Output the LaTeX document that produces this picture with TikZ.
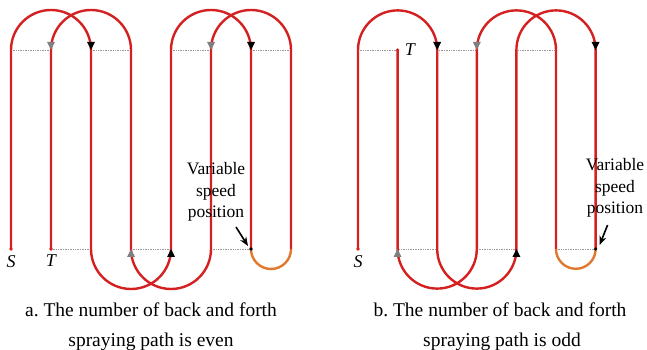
\documentclass[tikz,border=0pt]{standalone}
\usepackage{fontspec}
\setmainfont{Liberation Serif}
\usetikzlibrary{arrows.meta,calc,positioning}
\definecolor{PathRed}{HTML}{D42020}
\definecolor{PathOrange}{HTML}{E0782E}

\begin{document}
\begin{tikzpicture}[x=1pt,y=1pt,
  route/.style={PathRed,line width=2.4pt},
  turn/.style={PathOrange,line width=2.4pt},
  guide/.style={gray!80,densely dotted,line width=0.7pt},
  pointer/.style={-{Stealth[length=9pt,width=7pt]},line width=1.6pt,black},
  endlabel/.style={font=\fontsize{18}{20}\selectfont\itshape,inner sep=0pt},
  note/.style={align=center,font=\fontsize{17.5}{21.5}\selectfont,inner sep=0pt},
  caption/.style={anchor=base,font=\fontsize{19.5}{24}\selectfont,inner sep=0pt},
  pics/tipdown/.style={code={\fill (-4,8) -- (4,8) -- (0,0) -- cycle;}},
  pics/tipup/.style={code={\fill (-4,-8) -- (4,-8) -- (0,0) -- cycle;}}]
  \useasboundingbox (0,0) rectangle (647,350);
  % columns of the two panels
  \foreach \i in {0,...,7}{
    \coordinate (at\i) at (11+40*\i,300); \coordinate (ab\i) at (11+40*\i,101);}
  \foreach \i in {0,...,6}{
    \coordinate (bt\i) at (358+39.6*\i,300); \coordinate (bb\i) at (358+39.6*\i,101);}
  \foreach \p/\q in {at0/at1,at2/at3,at4/at5,at6/at7,ab1/ab2,ab3/ab4,ab5/ab6,
    bt0/bt1,bt2/bt3,bt4/bt5,bb1/bb2,bb3/bb4,bb5/bb6}
    \draw[guide] (\p) -- (\q);

  % a. even
  \draw[route] (ab0) -- (at0) arc[start angle=180,end angle=0,radius=40] -- (ab2)
    arc[start angle=180,end angle=360,radius=40] -- (at4)
    arc[start angle=180,end angle=0,radius=40] -- (ab6);
  \draw[turn] (ab6) arc[start angle=180,end angle=360,radius=20];
  \draw[route] (ab7) -- (at7) arc[start angle=0,end angle=180,radius=40] -- (ab5)
    arc[start angle=360,end angle=180,radius=40] -- (at3)
    arc[start angle=0,end angle=180,radius=40] -- (ab1);

  % b. odd
  \draw[route] (bb0) -- (bt0) arc[start angle=180,end angle=0,radius=39.6] -- (bb2)
    arc[start angle=180,end angle=360,radius=39.6] -- (bt4)
    arc[start angle=180,end angle=0,radius=39.6] -- (bb6);
  \draw[turn] (bb6) arc[start angle=0,end angle=-180,radius=19.8];
  \draw[route] (bb5) -- (bt5) arc[start angle=0,end angle=180,radius=39.6] -- (bb3)
    arc[start angle=360,end angle=180,radius=39.6] -- (bt1);

  % direction marks
  \foreach \c in {at2,at6,bt2,bt6} \pic[black] at (\c) {tipdown};
  \foreach \c in {at1,at5,bt3} \pic[gray] at (\c) {tipdown};
  \foreach \c in {ab4,bb4} \pic[black] at (\c) {tipup};
  \foreach \c in {ab3,bb1} \pic[gray] at (\c) {tipup};
  \foreach \c in {ab0,ab1,bb0,bt1} \fill[PathRed] (\c) circle (1.8);
  \foreach \c in {ab6,bb6} \fill[black] (\c) circle (1.8);

  \node[endlabel,below=6pt of ab0] (Sa) {S};
  \node[endlabel,below=6pt of ab1] (Ta) {T};
  \node[endlabel,below=6pt of bb0] (Sb) {S};
  \node[endlabel,right=7pt of bt1] (Tb) {T};

  \node[note] (vsa) at (216,158) {Variable\\speed\\position};
  \node[note] (vsb) at (615,162) {Variable\\speed\\position};
  \coordinate (vsa-tail) at ($(ab6)+(-15,22)$);
  \coordinate (vsb-tail) at ($(bb6)+(12,24)$);
  \draw[pointer] (vsa-tail) -- ($(ab6)+(-3,3)$);
  \draw[pointer] (vsb-tail) -- ($(bb6)+(4,4)$);

  \node[caption] (capa1) at (151,33) {a.\ The number of back and forth};
  \node[caption] (capa2) at (151,3.5) {spraying path is even};
  \node[caption] (capb1) at (500,33) {b.\ The number of back and forth};
  \node[caption] (capb2) at (502,3.5) {spraying path is odd};
\end{tikzpicture}
\end{document}
